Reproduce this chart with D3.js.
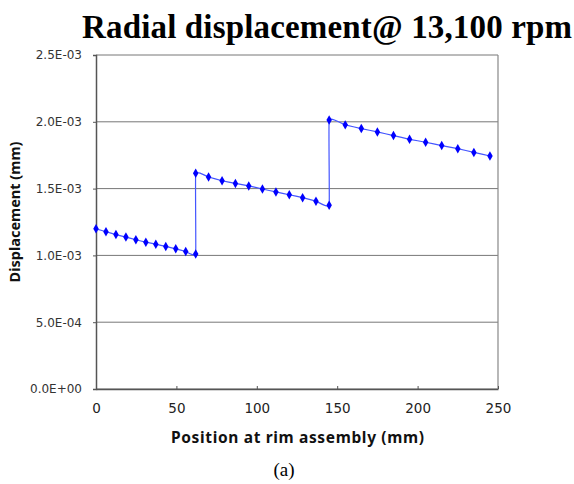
<!DOCTYPE html>
<html>
<head>
<meta charset="utf-8">
<script src="https://cdn.jsdelivr.net/npm/d3@7"></script>
<style>
  body { margin: 0; background: #fff; }
  svg { display: block; }
</style>
</head>
<body>
<svg width="574" height="484"></svg>
<script>
// values (position in mm, displacement in mm)
var positions = [0, 6.2, 12.4, 18.6, 24.8, 31, 37.2, 43.4, 49.6, 55.8, 62,
                 62, 70, 78.4, 86.7, 95, 103.5, 111.9, 120.2, 128.5, 136.8, 145,
                 145, 155, 165, 175, 185, 195, 205, 215, 225, 235, 245];
var displacement = [1.199e-3, 1.177e-3, 1.156e-3, 1.137e-3, 1.117e-3, 1.099e-3, 1.084e-3, 1.067e-3, 1.049e-3, 1.029e-3, 1.010e-3,
                    1.614e-3, 1.587e-3, 1.559e-3, 1.539e-3, 1.520e-3, 1.497e-3, 1.475e-3, 1.454e-3, 1.432e-3, 1.406e-3, 1.376e-3,
                    2.014e-3, 1.977e-3, 1.949e-3, 1.924e-3, 1.897e-3, 1.869e-3, 1.847e-3, 1.822e-3, 1.799e-3, 1.771e-3, 1.744e-3];
var xTicks = [0, 50, 100, 150, 200, 250];
var yTicks = [0, 0.5e-3, 1.0e-3, 1.5e-3, 2.0e-3, 2.5e-3];

var svg = d3.select("svg");
var plotL = 96, plotR = 498, plotT = 55, plotB = 389;

var x = d3.scaleLinear().domain([0, 250]).range([plotL, plotR]);
var y = d3.scaleLinear().domain([0, 2.5e-3]).range([plotB, plotT]);

var fmtE = function (v) {
    "use strict";
    var s = v.toExponential(1).toUpperCase();
    return s.replace(/E([+-])(\d)$/, "E$10$2");
};

// title
svg.append("text")
    .attr("x", 82).attr("y", 38)
    .attr("font-family", "Liberation Serif, serif")
    .attr("font-weight", "bold")
    .attr("font-size", 33)
    .attr("textLength", 490)
    .attr("fill", "#000")
    .text("Radial displacement@ 13,100 rpm");

// grid
svg.append("g").selectAll("line").data(yTicks).enter().append("line")
    .attr("x1", plotL).attr("x2", plotR)
    .attr("y1", function (d) { return y(d); })
    .attr("y2", function (d) { return y(d); })
    .attr("stroke", "#777")
    .attr("stroke-width", 1);

// frame
svg.append("line").attr("x1", plotR).attr("x2", plotR).attr("y1", plotT).attr("y2", plotB)
    .attr("stroke", "#888").attr("stroke-width", 1.2);

// y axis
var yAxis = svg.append("g")
    .attr("transform", "translate(" + plotL + ",0)")
    .call(d3.axisLeft(y).tickValues(yTicks).tickFormat(fmtE).tickSize(3).tickPadding(11));
yAxis.select(".domain").attr("stroke", "#555").attr("stroke-width", 1.5);
yAxis.selectAll(".tick line").attr("stroke", "#555");
yAxis.selectAll("text")
    .attr("font-family", "DejaVu Sans, sans-serif")
    .attr("font-size", 12)
    .attr("fill", "#333");

// x axis
var xAxis = svg.append("g")
    .attr("transform", "translate(0," + plotB + ")")
    .call(d3.axisBottom(x).tickValues(xTicks).tickFormat(d3.format("d")).tickSizeInner(-3).tickSizeOuter(0).tickPadding(14));
xAxis.select(".domain").attr("stroke", "#555").attr("stroke-width", 1.5);
xAxis.selectAll(".tick line").attr("stroke", "#555");
xAxis.selectAll("text")
    .attr("font-family", "DejaVu Sans, sans-serif")
    .attr("font-size", 13.5)
    .attr("fill", "#222");

// axis titles
svg.append("text")
    .attr("x", 171).attr("y", 443)
    .attr("font-family", "Noto Sans, DejaVu Sans, sans-serif")
    .attr("font-weight", "bold")
    .attr("font-size", 15.5)
    .attr("textLength", 253)
    .attr("fill", "#111")
    .text("Position at rim assembly (mm)");

svg.append("text")
    .attr("transform", "translate(20,212) rotate(-90)")
    .attr("text-anchor", "middle")
    .attr("font-family", "Noto Sans, DejaVu Sans, sans-serif")
    .attr("font-weight", "bold")
    .attr("font-size", 14.5)
    .attr("fill", "#111")
    .text("Displacement (mm)");

svg.append("text")
    .attr("x", 284).attr("y", 476)
    .attr("text-anchor", "middle")
    .attr("font-family", "Liberation Serif, serif")
    .attr("font-size", 19)
    .attr("fill", "#000")
    .text("(a)");

// series
var pts = positions.map(function (p, i) { return [p, displacement[i]]; });
var line = d3.line()
    .x(function (d) { return x(d[0]); })
    .y(function (d) { return y(d[1]); })
    .curve(d3.curveCardinal.tension(0.75));

svg.append("path")
    .datum(pts)
    .attr("d", line)
    .attr("fill", "none")
    .attr("stroke", "#4455ff")
    .attr("stroke-width", 1.2);

svg.append("g").selectAll("path").data(pts).enter().append("path")
    .attr("transform", function (d) { return "translate(" + x(d[0]) + "," + y(d[1]) + ")"; })
    .attr("d", d3.symbol().type(d3.symbolDiamond).size(26))
    .attr("fill", "#0000ff");
</script>
</body>
</html>
